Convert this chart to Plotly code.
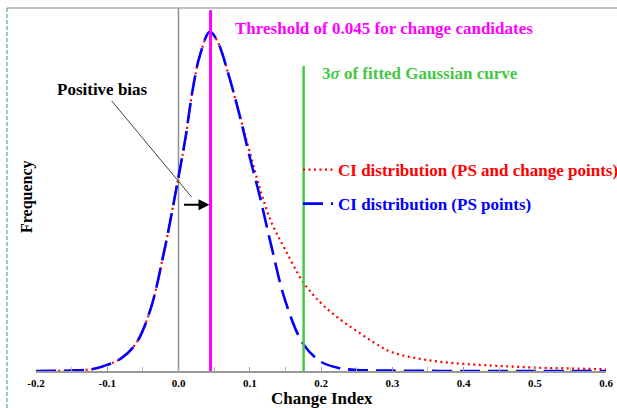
import plotly.graph_objects as go

# ---- data ----
x_blue = [-0.2, -0.15, -0.12, -0.1, -0.08, -0.06, -0.04, -0.02, 0.0, 0.01, 0.02, 0.03, 0.044,
          0.055, 0.07, 0.085, 0.1, 0.115, 0.13, 0.15, 0.175, 0.2, 0.225, 0.25, 0.3, 0.4, 0.5, 0.6]
y_blue = [0.0, 0.0015, 0.006, 0.018, 0.038, 0.08, 0.177, 0.354, 0.572, 0.69, 0.83, 0.93, 1.0,
          0.97, 0.875, 0.76, 0.63, 0.507, 0.371, 0.206, 0.08, 0.027, 0.009, 0.003, 0.001, 0.0, 0.0, 0.0]

x_red = [-0.2, -0.15, -0.12, -0.1, -0.08, -0.06, -0.04, -0.02, 0.0, 0.01, 0.02, 0.03, 0.044,
         0.055, 0.07, 0.085, 0.1, 0.115, 0.13, 0.15, 0.175, 0.2, 0.225, 0.25, 0.275, 0.3,
         0.35, 0.4, 0.45, 0.5, 0.55, 0.6]
y_red = [0.0, 0.0015, 0.006, 0.018, 0.038, 0.08, 0.177, 0.354, 0.572, 0.69, 0.83, 0.93, 1.0,
         0.97, 0.875, 0.76, 0.645, 0.533, 0.44, 0.357, 0.262, 0.2, 0.155, 0.118, 0.083, 0.055,
         0.032, 0.021, 0.015, 0.010, 0.0077, 0.005]

zero_line_x = 0.0
threshold_x = 0.045
three_sigma_x = 0.1756
three_sigma_top = 0.899

x_tick_vals = [-0.2, -0.1, 0.0, 0.1, 0.2, 0.3, 0.4, 0.5, 0.6]
x_tick_text = ["-0.2", "-0.1", "0.0", "0.1", "0.2", "0.3", "0.4", "0.5", "0.6"]

FONT = "Liberation Serif"
RED = "#ff0000"
BLUE = "#0000ff"
MAGENTA = "#ff00ff"
GREEN = "#44c844"

PW, PH = 570, 363  # plot area size in px (for paper-coordinate placement of labels)

fig = go.Figure()

fig.add_trace(go.Scatter(
    x=x_red, y=y_red, mode="lines", line_shape="spline",
    line=dict(color=RED, width=2.2, dash="2px,3.5px"),
    name=f"<span style='color:{RED}'>CI distribution (PS and change points)</span>",
    legendgroup="a"))
fig.add_trace(go.Scatter(
    x=x_blue, y=y_blue, mode="lines", line_shape="spline",
    line=dict(color=BLUE, width=2.6, dash="20px,8px"),
    name=f"<span style='color:{BLUE}'>CI distribution (PS points)</span>",
    legendgroup="b"))

# vertical reference lines
fig.add_shape(type="line", x0=zero_line_x, x1=zero_line_x, y0=0, y1=1, yref="paper",
              line=dict(color="#909090", width=1.5), layer="below")
fig.add_shape(type="line", x0=threshold_x, x1=threshold_x, y0=0, y1=0.994, yref="paper",
              line=dict(color=MAGENTA, width=3))
fig.add_shape(type="line", x0=three_sigma_x, x1=three_sigma_x, y0=0, y1=three_sigma_top,
              line=dict(color=GREEN, width=2.5))

# outer frame fragments (top gray border and left dashed border)
fig.add_shape(type="line", xref="paper", yref="paper", x0=-29/PW, x1=1.02, y0=1, y1=1,
              line=dict(color="#8a8a8a", width=1.2))
fig.add_shape(type="line", xref="paper", yref="paper", x0=-29/PW, x1=-29/PW, y0=1, y1=-37/PH,
              line=dict(color="#3aa060", width=1, dash="4px,2px"))

annotations = [
    dict(text="<b>Threshold of 0.045 for change candidates</b>", x=233, y=28,
         xanchor="left", yanchor="middle", color=MAGENTA, size=17),
    dict(text="<b>3<i>σ</i> of fitted Gaussian curve</b>", x=320, y=73,
         xanchor="left", yanchor="middle", color=GREEN, size=17),
]
for a in annotations:
    fig.add_annotation(text=a["text"], xref="paper", yref="paper",
                       x=(a["x"] - 36) / PW, y=(371 - a["y"]) / PH,
                       xanchor=a["xanchor"], yanchor=a["yanchor"], showarrow=False,
                       font=dict(family=FONT, size=a["size"], color=a["color"]))

# Positive bias with pointer line
fig.add_annotation(text="<b>Positive bias</b>", x=0.0183, y=0.513, ax=-89, ay=-107,
                   showarrow=True, arrowhead=0, arrowwidth=1, arrowcolor="#404040",
                   font=dict(family=FONT, size=17, color="black"))
# bias arrow
fig.add_annotation(text="", x=0.0435, y=0.49, ax=-27, ay=0, showarrow=True,
                   arrowhead=2, arrowsize=1, arrowwidth=2.2, arrowcolor="black")

# axis titles
fig.add_annotation(text="<b>Change Index</b>", xref="paper", yref="paper",
                   x=(322 - 36) / PW, y=(371 - 399) / PH, xanchor="center", yanchor="middle",
                   showarrow=False, font=dict(family=FONT, size=17, color="black"))
fig.add_annotation(text="<b>Frequency</b>", xref="paper", yref="paper",
                   x=(27 - 36) / PW, y=(371 - 197) / PH, xanchor="center", yanchor="middle",
                   textangle=-90, showarrow=False, font=dict(family=FONT, size=16, color="black"))

fig.update_layout(
    width=617, height=408,
    margin=dict(l=36, r=11, t=8, b=37, autoexpand=False),
    paper_bgcolor="white", plot_bgcolor="white",
    showlegend=True,
    legend=dict(x=(298 - 36) / PW, y=(371 - 152) / PH, xanchor="left", yanchor="top",
                bgcolor="rgba(0,0,0,0)", tracegroupgap=9,
                font=dict(family=FONT, size=17, weight="bold")),
    xaxis=dict(range=[-0.2, 0.6], tickvals=x_tick_vals, ticktext=x_tick_text,
               ticks="inside", ticklen=4, tickcolor="#999999", tickwidth=1,
               ticklabelstandoff=1,
               minor=dict(dtick=0.05, tick0=0, ticks="inside", ticklen=4, tickcolor="#bbbbbb"),
               showline=True, linecolor="#999999", linewidth=1.5, showgrid=False, zeroline=False,
               tickfont=dict(family=FONT, size=11, color="black", weight="bold")),
    yaxis=dict(range=[0, 1.0699], showticklabels=False, ticks="", showgrid=False,
               zeroline=False, showline=False),
)

fig.write_html("out.html")
